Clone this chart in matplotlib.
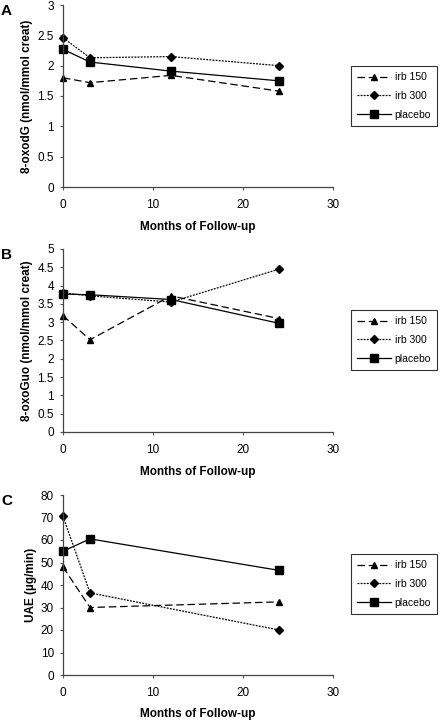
import numpy as np
import matplotlib
matplotlib.use('Agg')
import matplotlib.pyplot as plt

plt.rcParams['font.family'] = ['Liberation Sans', 'DejaVu Sans']

# months of follow-up
months_ab = [0, 3, 12, 24]
months_c = [0, 3, 24]

# panel A: 8-oxodG
a_irb150 = [1.80, 1.72, 1.84, 1.58]
a_irb300 = [2.46, 2.13, 2.15, 2.00]
a_placebo = [2.27, 2.06, 1.91, 1.75]

# panel B: 8-oxoGuo
b_irb150 = [3.18, 2.52, 3.72, 3.10]
b_irb300 = [3.80, 3.72, 3.55, 4.45]
b_placebo = [3.77, 3.75, 3.62, 2.97]

# panel C: UAE
c_irb150 = [48, 30, 32.5]
c_irb300 = [70.5, 36.5, 20]
c_placebo = [55, 60.5, 46.5]

series_names = ['irb 150', 'irb 300', 'placebo']
panel_letters = ['A', 'B', 'C']
ylabels = ['8-oxodG (nmol/mmol creat)', '8-oxoGuo (nmol/mmol creat)', 'UAE (\u00b5g/min)']
ylims = [(0, 3), (0, 5), (0, 80)]
ysteps = [0.5, 0.5, 10]

W, H = 440., 721.
fig = plt.figure(figsize=(W / 100, H / 100), dpi=100)

# pixel boxes (left, top, right, bottom) for each axes and legend top-left
axes_px = [(63, 5, 333, 187), (63, 249, 333, 432), (63, 495, 333, 675)]
legend_px = [(351, 66), (351, 310), (351, 554)]

panels = [
    (months_ab, [a_irb150, a_irb300, a_placebo]),
    (months_ab, [b_irb150, b_irb300, b_placebo]),
    (months_c, [c_irb150, c_irb300, c_placebo]),
]

styles = [
    dict(linestyle=(0, (6, 3)), marker='^', markersize=5),
    dict(linestyle=(0, (1.5, 1)), marker='D', markersize=3.6),
    dict(linestyle='-', marker='s', markersize=5.5),
]

for i, (xs, ys_list) in enumerate(panels):
    l, t, r, b = axes_px[i]
    ax = fig.add_axes([l / W, 1 - b / H, (r - l) / W, (b - t) / H])
    for name, ys, st in zip(series_names, ys_list, styles):
        ax.plot(xs, ys, color='black', linewidth=0.9, label=name, clip_on=False, **st)
    ax.set_xlim(0, 30)
    ax.set_ylim(*ylims[i])
    ax.set_xticks([0, 10, 20, 30])
    ax.set_yticks(np.arange(ylims[i][0], ylims[i][1] + 1e-9, ysteps[i]))
    ax.yaxis.set_major_formatter(matplotlib.ticker.FuncFormatter(lambda v, p: '%g' % v))
    ax.spines['top'].set_visible(False)
    ax.spines['right'].set_visible(False)
    for s in ['left', 'bottom']:
        ax.spines[s].set_linewidth(0.9)
        ax.spines[s].set_color('#444444')
    ax.tick_params(direction='out', length=2.5, width=0.8, labelsize=8.5,
                   colors='#555555', labelcolor='black')
    ax.tick_params(axis='x', pad=6)
    ax.tick_params(axis='y', pad=4)
    ax.set_xlabel('Months of Follow-up', fontsize=8.5, fontweight='bold',
                  labelpad=7.5 if i < 2 else 6.5)
    ax.set_ylabel(ylabels[i], fontsize=8.5, fontweight='bold', labelpad=3)
    fig.text(1 / W, 1 - (t - 1) / H, panel_letters[i], fontsize=11, fontweight='bold',
             va='top', ha='left')
    lx, ly = legend_px[i]
    leg = ax.legend(loc='upper left', bbox_to_anchor=(lx / W, 1 - ly / H),
                    bbox_transform=fig.transFigure, borderaxespad=0, fontsize=7.5,
                    frameon=True, fancybox=False, handlelength=3.2, handletextpad=0.4,
                    labelspacing=0.85, borderpad=0.6)
    leg.get_frame().set_edgecolor('black')
    leg.get_frame().set_linewidth(0.8)

fig.savefig('out.png', dpi=100)
